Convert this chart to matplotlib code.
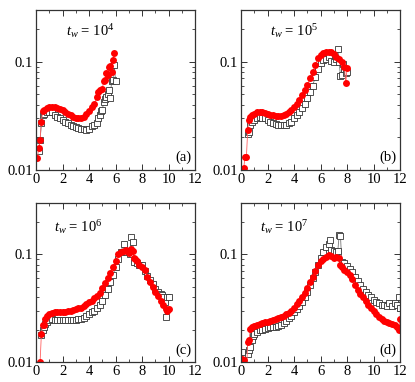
import numpy as np
import matplotlib
matplotlib.use("Agg")
import matplotlib.pyplot as plt
from matplotlib.ticker import LogLocator, FixedLocator, MultipleLocator, NullFormatter

plt.rcParams['font.family'] = ['Liberation Serif', 'DejaVu Serif']
plt.rcParams['mathtext.fontset'] = 'custom'
plt.rcParams['mathtext.rm'] = 'Liberation Serif'
plt.rcParams['mathtext.it'] = 'Liberation Serif:italic'

# ---------------- panel (a), t_w = 10^4 ----------------
xa_red = [0.1, 0.2, 0.3, 0.4, 0.5, 0.6,
          0.8, 1.0, 1.2, 1.4, 1.6, 1.8, 2.0, 2.2, 2.4, 2.6, 2.8, 3.0, 3.2, 3.4,
          3.6, 3.8, 4.0, 4.2, 4.4, 4.6,
          4.7, 4.8, 5.0, 5.1, 5.2, 5.3, 5.4, 5.5, 5.6, 5.7, 5.8, 5.9]
ya_red = [0.013, 0.016, 0.019, 0.028, 0.035, 0.036,
          0.037, 0.038, 0.0385, 0.038, 0.0375, 0.0365, 0.0355, 0.034, 0.033, 0.032, 0.031, 0.0305, 0.030, 0.0305,
          0.031, 0.033, 0.035, 0.038, 0.041, 0.047,
          0.053, 0.055, 0.056, 0.066, 0.068, 0.079, 0.076, 0.090, 0.092, 0.080, 0.104, 0.120]
xa_sq = [0.2, 0.3, 0.4, 0.5, 0.6,
         0.8, 1.0, 1.2, 1.4, 1.6, 1.8, 2.0, 2.2, 2.4, 2.6, 2.8, 3.0, 3.2, 3.4,
         3.6, 3.8, 4.0, 4.2, 4.4, 4.6,
         4.7, 4.8, 4.9, 5.0, 5.1, 5.2, 5.3, 5.4, 5.5, 5.6, 5.7, 5.8, 5.9, 6.0]
ya_sq = [0.015, 0.019, 0.027, 0.032, 0.033,
         0.034, 0.0345, 0.034, 0.0325, 0.031, 0.030, 0.029, 0.028, 0.027, 0.026, 0.0255, 0.025, 0.0245, 0.024,
         0.0238, 0.0235, 0.024, 0.0255, 0.026, 0.027,
         0.030, 0.032, 0.035, 0.036, 0.042, 0.045, 0.047, 0.050, 0.055, 0.046, 0.066, 0.068, 0.094, 0.066]

# ---------------- panel (b), t_w = 10^5 ----------------
xb_red = [0.2, 0.3, 0.4, 0.5, 0.6, 0.7, 0.8,
          1.0, 1.2, 1.4, 1.6, 1.8, 2.0, 2.2, 2.4, 2.6, 2.8, 3.0, 3.2, 3.4, 3.6,
          3.8, 4.0, 4.2, 4.4, 4.6, 4.8, 5.0, 5.2, 5.4, 5.6, 5.8, 6.0, 6.2, 6.4,
          6.6, 6.8, 7.0, 7.2, 7.4, 7.6, 7.8,
          7.9, 8.0]
yb_red = [0.0105, 0.0133, 0.0133, 0.0235, 0.029, 0.031, 0.032,
          0.033, 0.034, 0.034, 0.034, 0.0335, 0.033, 0.0325, 0.032, 0.0318, 0.0315, 0.0315, 0.032, 0.033, 0.034,
          0.036, 0.038, 0.041, 0.044, 0.049, 0.055, 0.061, 0.070, 0.080, 0.093, 0.108, 0.116, 0.120, 0.123,
          0.124, 0.122, 0.117, 0.110, 0.106, 0.100, 0.090,
          0.063, 0.087]
xb_sq = [0.5, 0.6, 0.7, 0.8,
         1.0, 1.2, 1.4, 1.6, 1.8, 2.0, 2.2, 2.4, 2.6, 2.8, 3.0, 3.2, 3.4, 3.6,
         3.8, 4.0, 4.2, 4.4, 4.6, 4.8, 5.0, 5.2, 5.4, 5.6, 5.8, 6.0, 6.2, 6.4,
         6.6, 6.8, 7.0, 7.2,
         7.3, 7.4, 7.5, 7.6, 7.7, 7.8, 7.9, 8.0]
yb_sq = [0.0215, 0.0226, 0.026, 0.028,
         0.029, 0.030, 0.031, 0.0305, 0.030, 0.029, 0.028, 0.027, 0.0265, 0.026, 0.026, 0.026, 0.0262, 0.027,
         0.028, 0.030, 0.032, 0.034, 0.037, 0.041, 0.046, 0.052, 0.060, 0.072, 0.085, 0.098, 0.104, 0.106,
         0.110, 0.102, 0.100, 0.105,
         0.131, 0.100, 0.073, 0.076, 0.095, 0.085, 0.078, 0.081]

# ---------------- panel (c), t_w = 10^6 ----------------
xc_red = [0.3, 0.4, 0.5, 0.6, 0.7, 0.8,
          1.0, 1.2, 1.4, 1.6, 1.8, 2.0, 2.2, 2.4, 2.6, 2.8, 3.0, 3.2, 3.4, 3.6,
          3.8, 4.0, 4.2, 4.4, 4.6, 4.8, 5.0, 5.2, 5.4, 5.6, 5.8, 6.0, 6.2, 6.4,
          6.6, 6.8, 7.0, 7.2, 7.3, 7.4, 7.5, 7.6, 7.8, 8.0, 8.2, 8.4, 8.6, 8.8,
          9.0, 9.2, 9.4, 9.6, 9.8, 9.9, 10.0]
yc_red = [0.010, 0.0184, 0.022, 0.022, 0.025, 0.0265,
          0.028, 0.0285, 0.029, 0.029, 0.029, 0.029, 0.0292, 0.0295, 0.030, 0.0303, 0.031, 0.0315, 0.032, 0.033,
          0.0345, 0.036, 0.037, 0.039, 0.041, 0.0435, 0.049, 0.054, 0.060, 0.067, 0.076, 0.087, 0.100, 0.106,
          0.108, 0.110, 0.103, 0.112, 0.108, 0.092, 0.090, 0.087, 0.080, 0.076, 0.071, 0.062, 0.055, 0.050,
          0.045, 0.041, 0.037, 0.034, 0.031, 0.030, 0.031]
xc_sq = [0.4, 0.5, 0.6, 0.7, 0.8,
         1.0, 1.2, 1.4, 1.6, 1.8, 2.0, 2.2, 2.4, 2.6, 2.8, 3.0, 3.2, 3.4, 3.6,
         3.8, 4.0, 4.2, 4.4, 4.6, 4.8, 5.0, 5.2, 5.4, 5.6, 5.8, 6.0, 6.2, 6.4,
         6.6, 6.8, 7.0, 7.1, 7.2, 7.3, 7.4, 7.6, 7.8, 8.0, 8.2, 8.4, 8.6, 8.8,
         9.0, 9.2, 9.4, 9.5, 9.6, 9.7, 9.8, 9.9, 10.0]
yc_sq = [0.0178, 0.020, 0.021, 0.0225, 0.0236,
         0.0245, 0.025, 0.0248, 0.0247, 0.0246, 0.0245, 0.0245, 0.0246, 0.0246, 0.0247, 0.0248, 0.0249, 0.025, 0.0255,
         0.0267, 0.028, 0.029, 0.030, 0.032, 0.034, 0.037, 0.042, 0.048, 0.055, 0.064, 0.076, 0.090, 0.105,
         0.125, 0.105, 0.104, 0.100, 0.145, 0.130, 0.085, 0.083, 0.080, 0.079, 0.070, 0.063, 0.058, 0.053,
         0.048, 0.045, 0.043, 0.042, 0.040, 0.036, 0.026, 0.040, 0.040]

# ---------------- panel (d), t_w = 10^7 ----------------
xd_red = [0.1, 0.2, 0.4, 0.5, 0.6, 0.7, 0.8,
          1.0, 1.2, 1.4, 1.6, 1.8, 2.0, 2.2, 2.4, 2.6, 2.8, 3.0, 3.2, 3.4, 3.6,
          3.8, 4.0, 4.2, 4.4, 4.6, 4.8, 5.0, 5.2, 5.4, 5.6, 5.8, 6.0, 6.2, 6.4,
          6.6, 6.8, 7.0, 7.2, 7.4, 7.5, 7.6, 7.8, 8.0, 8.2, 8.4, 8.6, 8.8, 9.0,
          9.2, 9.4, 9.6, 9.8, 10.0, 10.2, 10.4, 10.6, 10.8, 11.0, 11.2, 11.4, 11.6, 11.8,
          11.9, 12.0]
yd_red = [0.0108, 0.0105, 0.008, 0.0154, 0.016, 0.0205, 0.021,
          0.0215, 0.022, 0.0225, 0.023, 0.0235, 0.0236, 0.024, 0.0245, 0.025, 0.0257, 0.0263, 0.027, 0.0277, 0.0285,
          0.030, 0.032, 0.0345, 0.037, 0.040, 0.044, 0.049, 0.055, 0.062, 0.070, 0.079, 0.086, 0.091, 0.095,
          0.098, 0.096, 0.093, 0.094, 0.092, 0.080, 0.077, 0.072, 0.068, 0.064, 0.059, 0.052, 0.047, 0.043,
          0.040, 0.037, 0.034, 0.0315, 0.030, 0.028, 0.026, 0.025, 0.024, 0.0238, 0.0232, 0.0228, 0.0222, 0.021,
          0.0198, 0.025]
xd_sq = [0.1, 0.2, 0.5, 0.6, 0.7, 0.8, 0.9,
         1.0, 1.2, 1.4, 1.6, 1.8, 2.0, 2.2, 2.4, 2.6, 2.8, 3.0, 3.2, 3.4, 3.6,
         3.8, 4.0, 4.2, 4.4, 4.6, 4.8, 5.0, 5.2, 5.4, 5.6, 5.8, 6.0, 6.2, 6.4,
         6.6, 6.7, 6.8, 7.0, 7.2, 7.3, 7.4, 7.5, 7.6, 7.8, 8.0, 8.2, 8.4, 8.6,
         8.8, 9.0, 9.2, 9.4, 9.6, 9.8, 10.0, 10.2, 10.4, 10.6, 10.8, 11.0, 11.2, 11.4,
         11.6, 11.8, 11.9, 12.0]
yd_sq = [0.0125, 0.009, 0.012, 0.013, 0.0139, 0.016, 0.0175,
         0.0184, 0.019, 0.0197, 0.020, 0.0205, 0.0207, 0.021, 0.021, 0.021, 0.0215, 0.022, 0.023, 0.024, 0.0254,
         0.027, 0.029, 0.031, 0.033, 0.036, 0.040, 0.045, 0.052, 0.060, 0.069, 0.080, 0.092, 0.105, 0.117,
         0.125, 0.135, 0.110, 0.108, 0.105, 0.107, 0.150, 0.148, 0.085, 0.083, 0.078, 0.073, 0.068, 0.062,
         0.056, 0.052, 0.048, 0.045, 0.042, 0.040, 0.038, 0.036, 0.035, 0.034, 0.034, 0.033, 0.035, 0.033,
         0.035, 0.034, 0.040, 0.032]

paineis = [
    (xa_red, ya_red, xa_sq, ya_sq, '4', '(a)'),
    (xb_red, yb_red, xb_sq, yb_sq, '5', '(b)'),
    (xc_red, yc_red, xc_sq, yc_sq, '6', '(c)'),
    (xd_red, yd_red, xd_sq, yd_sq, '7', '(d)'),
]

# posição dos eixos (fração da figura) e do rótulo t_w
posicoes = [
    [0.087, 0.555, 0.383, 0.419],
    [0.581, 0.555, 0.383, 0.419],
    [0.087, 0.052, 0.383, 0.417],
    [0.581, 0.052, 0.383, 0.417],
]
rotuloPos = [(0.19, 0.84), (0.18, 0.84), (0.11, 0.82), (0.12, 0.82)]

corEixo = '#333333'

fig = plt.figure(figsize=(4.15, 3.82), dpi=100)

for i, (xr, yr, xs, ys, expo, letra) in enumerate(paineis):
    ax = fig.add_axes(posicoes[i])
    # quadrados abertos embaixo, círculos vermelhos por cima
    ax.plot(xs, ys, '-', color='#777777', lw=0.6, marker='s', ms=4.6,
            mfc='white', mec='#333333', mew=0.6)
    ax.plot(xr, yr, '-', color='#ff6060', lw=0.6, marker='o', ms=5,
            mfc='red', mec='red', mew=0)

    ax.set_yscale('log')
    ax.set_xlim(0, 12)
    ax.set_ylim(0.01, 0.3)
    ax.xaxis.set_major_locator(MultipleLocator(2))
    ax.xaxis.set_minor_locator(MultipleLocator(1))
    ax.yaxis.set_major_locator(FixedLocator([0.01, 0.1]))
    ax.yaxis.set_minor_locator(LogLocator(base=10, subs=np.arange(2, 10)))
    ax.yaxis.set_minor_formatter(NullFormatter())
    ax.set_yticklabels(['0.01', '0.1'])
    ax.tick_params(which='both', direction='in', top=True, right=True,
                   labelsize=10.5, color=corEixo, pad=2)
    ax.tick_params(which='major', length=4, width=0.7)
    ax.tick_params(which='minor', length=2, width=0.6)
    for sp in ax.spines.values():
        sp.set_color(corEixo)
        sp.set_linewidth(0.9)

    tx, ty = rotuloPos[i]
    ax.text(tx, ty, r'$t_w$ = 10$^{' + expo + '}$', transform=ax.transAxes,
            fontsize=10.5, ha='left', va='baseline')
    ax.text(0.975, 0.035, letra, transform=ax.transAxes, fontsize=10.5,
            ha='right', va='bottom')

fig.savefig('out.png', dpi=100)
